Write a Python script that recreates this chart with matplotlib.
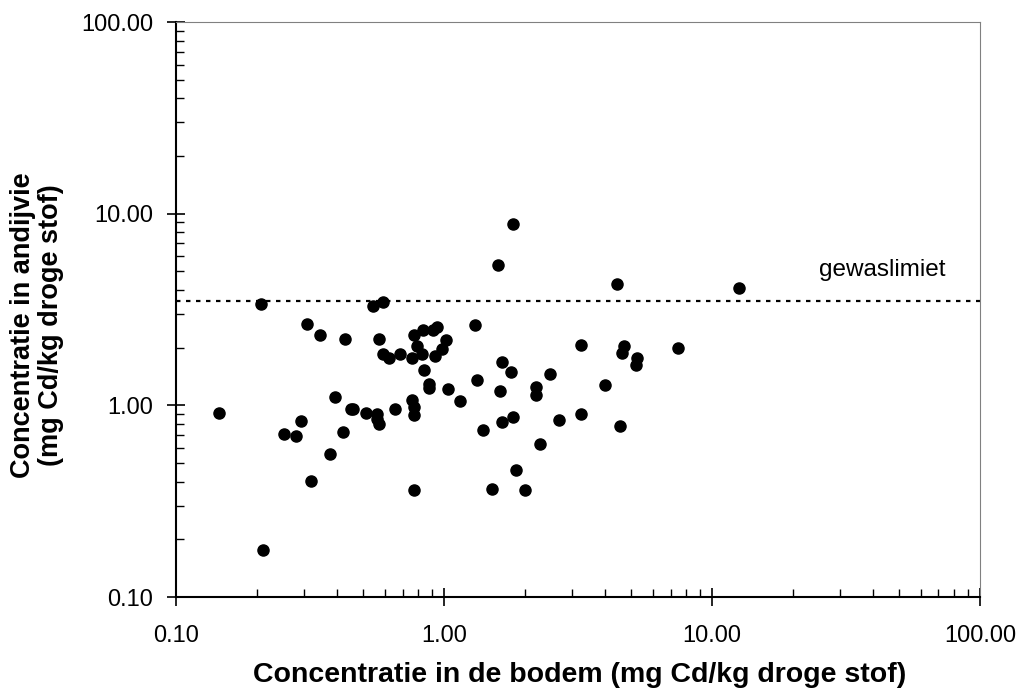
import matplotlib.pyplot as plt
from matplotlib.ticker import LogLocator, FormatStrFormatter, NullFormatter

plt.rcParams['font.family'] = ['Liberation Sans', 'DejaVu Sans']

# Cd concentration in soil (x) and in endive (y), mg Cd/kg dry matter
bodem = [0.144, 0.207, 0.211, 0.252, 0.279, 0.293, 0.307, 0.318, 0.345, 0.375,
         0.393, 0.419, 0.426, 0.448, 0.456, 0.51, 0.545, 0.562, 0.562, 0.574,
         0.574, 0.59, 0.594, 0.622, 0.655, 0.687, 0.758, 0.76, 0.771, 0.771,
         0.771, 0.771, 0.795, 0.83, 0.837, 0.844, 0.879, 0.879, 0.907, 0.923,
         0.94, 0.986, 1.02, 1.035, 1.145, 1.30, 1.33, 1.394, 1.515, 1.59,
         1.62, 1.64, 1.64, 1.78, 1.814, 1.814, 1.85, 2.0, 2.20, 2.20,
         2.28, 2.48, 2.69, 3.23, 3.23, 3.99, 4.41, 4.55, 4.60, 4.69,
         5.19, 5.26, 7.45, 12.6]
andijvie = [0.91, 3.39, 0.175, 0.708, 0.69, 0.832, 2.67, 0.404, 2.33, 0.559,
            1.105, 0.725, 2.23, 0.956, 0.956, 0.916, 3.29, 0.90, 0.852, 0.796,
            2.23, 1.854, 3.47, 1.767, 0.96, 1.848, 1.062, 1.767, 0.98, 0.894,
            0.36, 2.33, 2.03, 1.854, 2.46, 1.53, 1.30, 1.235, 2.46, 1.80,
            2.57, 1.97, 2.18, 1.21, 1.053, 2.62, 1.362, 0.74, 0.368, 5.42,
            1.184, 1.678, 0.815, 1.49, 8.84, 0.873, 0.46, 0.36, 1.247, 1.137,
            0.63, 1.458, 0.835, 2.075, 0.897, 1.27, 4.29, 0.777, 1.877, 2.03,
            1.63, 1.767, 1.987, 4.10]
gewaslimiet = 3.5

fig = plt.figure(figsize=(10.24, 6.89), dpi=100)
ax = fig.add_axes([0.172, 0.1335, 0.785, 0.8345])

ax.plot(bodem, andijvie, 'o', color='black', markersize=8, zorder=3)
ax.axhline(gewaslimiet, color='black', linestyle=(0, (2, 2.5)), linewidth=1.6)
ax.text(0.80, 0.569, 'gewaslimiet', transform=ax.transAxes, fontsize=17.5, ha='left', va='center')

ax.set_xscale('log')
ax.set_yscale('log')
ax.set_xlim(0.1, 100)
ax.set_ylim(0.1, 100)

for a in (ax.xaxis, ax.yaxis):
    a.set_major_locator(LogLocator(base=10))
    a.set_minor_locator(LogLocator(base=10, subs=range(2, 10)))
    a.set_major_formatter(FormatStrFormatter('%.2f'))
    a.set_minor_formatter(NullFormatter())

ax.tick_params(which='major', direction='inout', length=13, width=1.2, labelsize=17)
ax.tick_params(axis='x', which='major', pad=14)
ax.tick_params(axis='y', which='major', pad=10)
ax.tick_params(which='minor', direction='in', length=6, width=1)
ax.tick_params(top=False, right=False, which='both')

ax.spines['left'].set_linewidth(1.5)
ax.spines['bottom'].set_linewidth(1.5)
ax.spines['top'].set_color('#808080')
ax.spines['right'].set_color('#808080')

fig.text(0.566, 1 / 689, 'Concentratie in de bodem (mg Cd/kg droge stof)',
         fontsize=20.5, fontweight='bold', ha='center', va='bottom')
fig.text(37 / 1024, 1 - 325 / 689, 'Concentratie in andijvie\n(mg Cd/kg droge stof)',
         fontsize=19.5, fontweight='bold', ha='center', va='center',
         rotation=90, multialignment='center', linespacing=1.1)

fig.savefig('out.png', dpi=100)
